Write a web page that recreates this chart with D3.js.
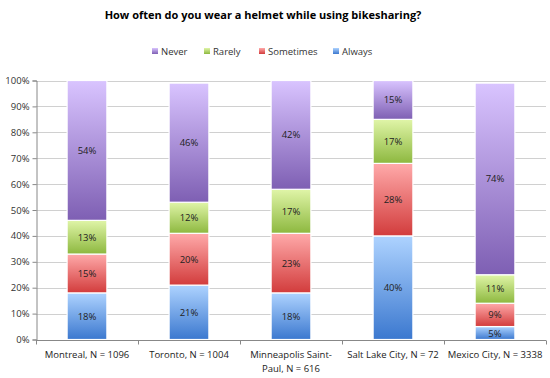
<!DOCTYPE html>
<html><head><meta charset="utf-8">
<script src="https://cdn.jsdelivr.net/npm/d3@7"></script>
<style>body{margin:0;background:#fff}svg{display:block}text{font-family:"Open Sans","Noto Sans",sans-serif}</style>
</head><body><div id="c"></div>
<script>
const categories = ["Montreal, N = 1096","Toronto, N = 1004","Minneapolis Saint-|Paul, N = 616","Salt Lake City, N = 72","Mexico City, N = 3338"];
const seriesNames = ["Always","Sometimes","Rarely","Never"];
const always    = [18,21,18,40,5];
const sometimes = [15,20,23,28,9];
const rarely    = [13,12,17,17,11];
const never     = [54,46,42,15,74];
const yTicks = [0,10,20,30,40,50,60,70,80,90,100];
const legendOrder = ["Never","Rarely","Sometimes","Always"];

const W=550,H=378;
const svg=d3.select("#c").append("svg").attr("width",W).attr("height",H);
const colors={
  Never:["#d9c4ff","#7e5fb3"],
  Rarely:["#e0f5a8","#8db83f"],
  Sometimes:["#ffaaaa","#d23c3c"],
  Always:["#aed3ff","#3b78cf"]
};
const defs=svg.append("defs");
Object.entries(colors).forEach(([k,c])=>{
  const g=defs.append("linearGradient").attr("id","g"+k).attr("x1",0).attr("y1",0).attr("x2",0).attr("y2",1);
  g.append("stop").attr("offset","0%").attr("stop-color",c[0]);
  g.append("stop").attr("offset","100%").attr("stop-color",c[1]);
});
const x=d3.scaleBand().domain(categories).range([36,546]).paddingInner(0.61).paddingOuter(0.305);
const xb=d3.scaleBand().domain(categories).range([36,546]);
const y=d3.scaleLinear().domain([0,100]).range([339.5,80.5]);

// gridlines
svg.append("g").selectAll("line").data(yTicks.filter(d=>d>0)).join("line")
  .attr("x1",36).attr("x2",546).attr("y1",d=>Math.round(y(d))+0.5).attr("y2",d=>Math.round(y(d))+0.5)
  .attr("stroke","#d0d0d0").attr("stroke-width",1);

// title
svg.append("text").attr("x",263).attr("y",19).attr("text-anchor","middle")
  .attr("font-size",11).attr("font-weight","bold").attr("fill","#000")
  .text("How often do you wear a helmet while using bikesharing?");

// legend
const legX={Never:152,Rarely:204,Sometimes:259,Always:333};
const lg=svg.append("g");
legendOrder.forEach(k=>{
  lg.append("rect").attr("x",legX[k]).attr("y",48).attr("width",6).attr("height",6).attr("fill","url(#g"+k+")");
  lg.append("text").attr("x",legX[k]+9).attr("y",55).attr("font-size",9.5).attr("fill","#333").text(k);
});

// stacks
const data=categories.map((c,i)=>({cat:c,Always:always[i],Sometimes:sometimes[i],Rarely:rarely[i],Never:never[i]}));
const stack=d3.stack().keys(seriesNames)(data);
const bars=svg.append("g");
stack.forEach(s=>{
  const k=s.key;
  s.forEach(d=>{
    const x0=x(d.data.cat), w=x.bandwidth();
    const yt=y(d[1]), yb=y(d[0]);
    bars.append("rect").attr("x",x0).attr("y",yt).attr("width",w).attr("height",yb-yt)
      .attr("fill","url(#g"+k+")").attr("stroke","#fff").attr("stroke-width",1.2);
    bars.append("text").attr("x",x0+w/2).attr("y",(yt+yb)/2+3.5).attr("text-anchor","middle")
      .attr("font-size",9.5).attr("fill","#222").text(d.data[k]+"%");
  });
});

// y axis
const ya=svg.append("g").attr("transform","translate(36.5,0)")
  .call(d3.axisLeft(y).tickValues(yTicks).tickFormat(d=>d+"%").tickSize(4).tickPadding(3));
ya.select(".domain").attr("stroke","#888");
ya.selectAll(".tick line").attr("stroke","#888");
ya.selectAll("text").attr("font-size",9.5).attr("fill","#333").attr("font-family","'Open Sans','Noto Sans',sans-serif");

// x axis
const xa=svg.append("g").attr("transform","translate(0,"+(Math.round(y(0))+0.5)+")");
xa.append("line").attr("x1",36).attr("x2",546).attr("stroke","#888");
const bounds=categories.map(c=>xb(c)).concat([546]);
xa.selectAll("line.t").data(bounds).join("line").attr("class","t")
  .attr("x1",d=>Math.round(d)+0.5).attr("x2",d=>Math.round(d)+0.5).attr("y1",0).attr("y2",4).attr("stroke","#888");
categories.forEach(c=>{
  const lines=c.split("|");
  const t=xa.append("text").attr("x",xb(c)+xb.bandwidth()/2).attr("y",17).attr("text-anchor","middle")
    .attr("font-size",9.5).attr("fill","#222");
  lines.forEach((l,i)=>t.append("tspan").attr("x",xb(c)+xb.bandwidth()/2).attr("dy",i?14:0).text(l));
});
</script></body></html>
